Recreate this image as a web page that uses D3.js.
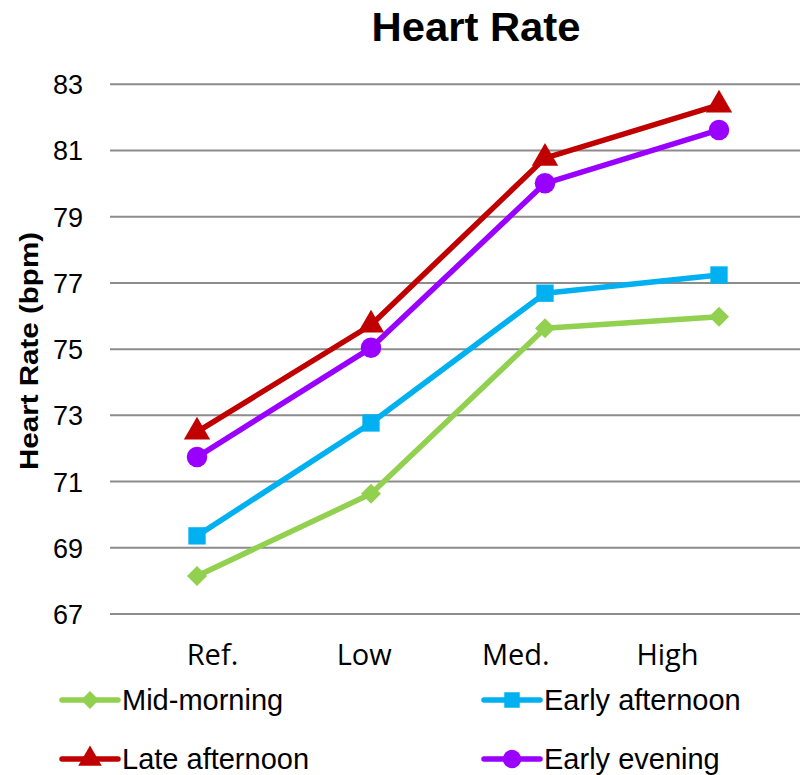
<!DOCTYPE html>
<html><head><meta charset="utf-8">
<script src="https://cdn.jsdelivr.net/npm/d3@7"></script>
<style>body{margin:0;background:#fff}svg{display:block}</style>
</head><body>
<svg id="c" width="800" height="775"></svg>
<script>
const categories = ["Ref.", "Low", "Med.", "High"];
const yTicks = [67, 69, 71, 73, 75, 77, 79, 81, 83];
const seriesNames = ["Mid-morning", "Early afternoon", "Late afternoon", "Early evening"];
const midMorning = [68.15, 70.63, 75.63, 75.98];
const earlyAfternoon = [69.36, 72.77, 76.69, 77.24];
const lateAfternoon = [72.5, 75.73, 80.77, 82.38];
const earlyEvening = [71.74, 75.04, 80.01, 81.62];
const colors = ["#92D050", "#00B0F0", "#C00000", "#9900FF"];
const symbols = [d3.symbolSquare, d3.symbolSquare, d3.symbolTriangle, d3.symbolCircle];
const symRot = [45, 0, 0, 0];
const symSizes = [200, 300, 300, 330];

const series = seriesNames.map((n, i) => ({name: n, values: [midMorning, earlyAfternoon, lateAfternoon, earlyEvening][i], color: colors[i], symbol: symbols[i], size: symSizes[i], rot: symRot[i]}));

const svg = d3.select("#c");
const x = d3.scaleBand().domain(categories).range([110, 806]);
const xLab = d3.scalePoint().domain(categories).range([212, 667]);
const y = d3.scaleLinear().domain([67, 83]).range([614, 84.3]);

// gridlines
svg.append("g").selectAll("line").data(yTicks).join("line")
  .attr("x1", 110).attr("x2", 800)
  .attr("y1", d => y(d)).attr("y2", d => y(d))
  .attr("stroke", "#8c8c8c").attr("stroke-width", 2);

// y axis
const yAxis = d3.axisLeft(y).tickValues(yTicks).tickSize(0).tickPadding(0);
const yg = svg.append("g").attr("transform", "translate(83,0)").call(yAxis);
yg.select(".domain").remove();
yg.selectAll("text").attr("font-family", "Liberation Sans, Arial, sans-serif").attr("font-size", 27).attr("fill", "#000").attr("dy", "0.35em");

// x axis labels
const xAxis = d3.axisBottom(xLab).tickSize(0).tickPadding(0);
const xg = svg.append("g").attr("transform", "translate(0,665)").call(xAxis);
xg.select(".domain").remove();
xg.selectAll("text").attr("font-family", "Open Sans, sans-serif").attr("font-size", 29).attr("fill", "#000").attr("dy", 0);

// title
svg.append("text").attr("x", 476).attr("y", 41).attr("text-anchor", "middle")
  .attr("font-family", "Liberation Sans, Arial, sans-serif").attr("font-weight", "bold")
  .attr("font-size", 40).attr("textLength", 209).attr("lengthAdjust", "spacingAndGlyphs").text("Heart Rate");

// y title
svg.append("text").attr("transform", "translate(38,351) rotate(-90)").attr("text-anchor", "middle")
  .attr("font-family", "Liberation Sans, Arial, sans-serif").attr("font-weight", "bold")
  .attr("font-size", 26).attr("textLength", 238).attr("lengthAdjust", "spacingAndGlyphs").text("Heart Rate (bpm)");

const line = d3.line().x((d, i) => x(categories[i]) + x.bandwidth() / 2).y(d => y(d));

series.forEach(s => {
  const g = svg.append("g");
  g.append("path").datum(s.values).attr("d", line).attr("fill", "none")
    .attr("stroke", s.color).attr("stroke-width", 5.5).attr("stroke-linejoin", "round");
  g.selectAll("path.m").data(s.values).join("path").attr("class", "m")
    .attr("d", d3.symbol().type(s.symbol).size(s.size))
    .attr("transform", (d, i) => `translate(${x(categories[i]) + x.bandwidth() / 2},${y(d)}) rotate(${s.rot})`)
    .attr("fill", s.color);
});

// legend
const legPos = [[62, 700], [484, 700], [62, 759], [484, 759]];
series.forEach((s, i) => {
  const [lx, ly] = legPos[i];
  const g = svg.append("g").attr("transform", `translate(${lx},${ly})`);
  g.append("line").attr("x1", 0).attr("x2", 56).attr("stroke", s.color).attr("stroke-width", 5.5).attr("stroke-linecap", "round");
  g.append("path").attr("d", d3.symbol().type(s.symbol).size(s.size * 0.8)).attr("transform", `translate(28,0) rotate(${s.rot})`).attr("fill", s.color);
  g.append("text").attr("x", 60).attr("y", 0).attr("dy", "0.35em")
    .attr("font-family", "Liberation Sans, Arial, sans-serif").attr("font-size", 29).attr("fill", "#000").text(s.name);
});
</script>
</body></html>
